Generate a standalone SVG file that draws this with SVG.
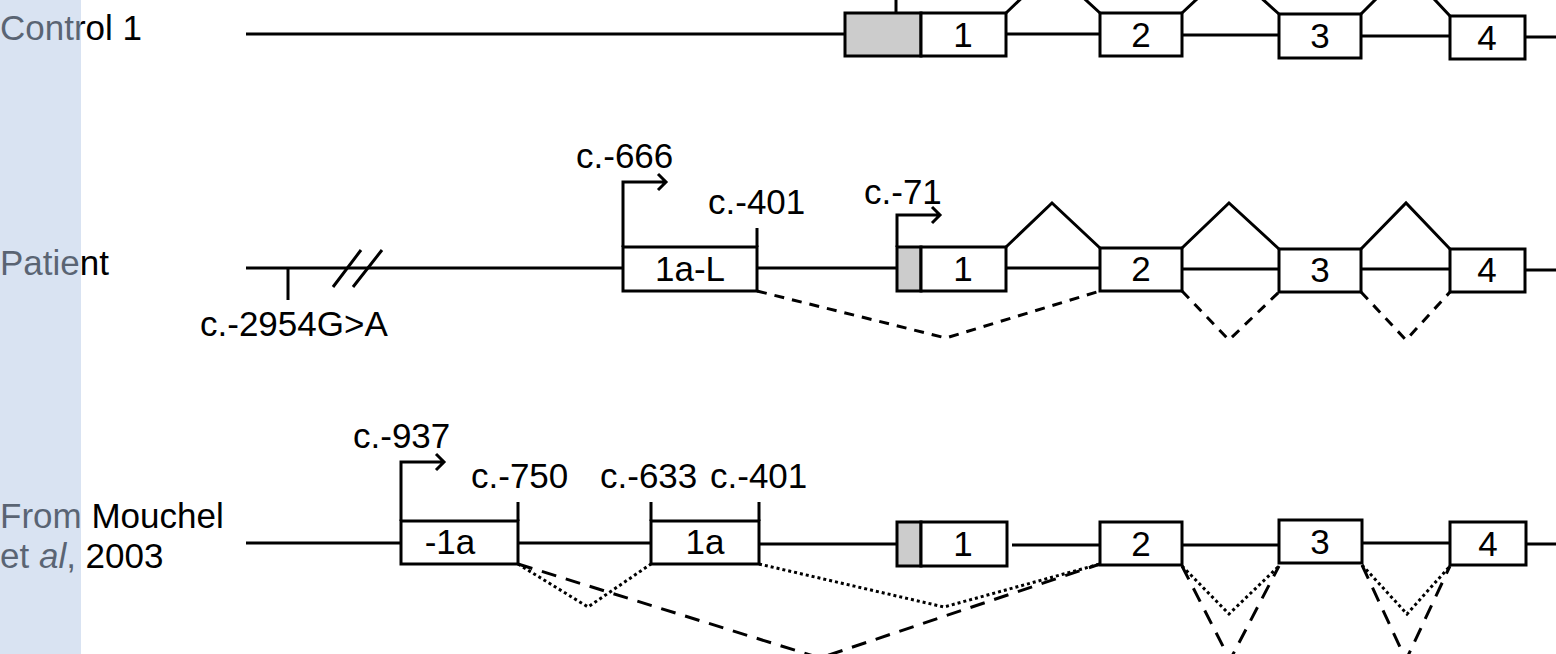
<svg xmlns="http://www.w3.org/2000/svg" width="1556" height="654" viewBox="0 0 1556 654">
<style>
text{font-family:"Liberation Sans",Arial,sans-serif;font-size:35px;fill:#000}
.lbl{text-anchor:middle}
.ln{stroke:#000;stroke-width:3;fill:none}
.ex{fill:#fff;stroke:#000;stroke-width:3}
.utr{fill:#cccccc;stroke:#000;stroke-width:3}
.dash{stroke:#000;stroke-width:3;fill:none;stroke-dasharray:10 8}
.dash2{stroke:#000;stroke-width:3;fill:none;stroke-dasharray:15 10}
.dot{stroke:#000;stroke-width:3;fill:none;stroke-dasharray:3 3}
</style>
<rect width="1556" height="654" fill="#fff"/>
<!-- row labels -->
<g id="labels">
<text x="0" y="40">Control 1</text>
<text x="0" y="275">Patient</text>
<text x="0" y="528">From Mouchel</text>
<text x="0" y="568">et <tspan font-style="italic">al</tspan>, 2003</text>
</g>
<!-- connectors -->
<g id="connectors">
<!-- control row -->
<path class="ln" d="M246 34H845 M1006 34H1100 M1182 35H1279 M1361 36H1450 M1525 37H1556"/>
<path class="ln" d="M896 13V0"/>
<path class="ln" d="M1006 13L1052 -31L1100 13 M1182 13L1229 -31L1279 14 M1361 14L1406 -31L1450 16"/>
<!-- patient row -->
<path class="ln" d="M246 268H623 M757 268H897 M1006 268H1100 M1182 269H1279 M1361 269H1450 M1525 270H1556"/>
<path class="ln" d="M288 268V300"/>
<path class="ln" d="M333 287L361 250 M353 287L382 250"/>
<path class="ln" d="M623 247V182H664 M658 174L666 182L658 190"/>
<path class="ln" d="M757 247V228"/>
<path class="ln" d="M897 247V215H938 M932 207L940 215L932 223"/>
<path class="ln" d="M1006 247L1052 203L1100 248 M1182 248L1229 203L1279 249 M1361 249L1406 203L1450 249"/>
<path class="dash" d="M757 291L946 338L1100 291 M1182 291L1229 340L1279 292 M1361 292L1406 340L1450 292"/>
<!-- Mouchel row -->
<path class="ln" d="M246 543H401 M518 543H651 M759 544H897 M1012 545H1100 M1182 545H1279 M1362 543H1450 M1526 544H1556"/>
<path class="ln" d="M401 521V462H442 M436 454L444 462L436 470"/>
<path class="ln" d="M518 521V502 M651 521V502 M759 521V502"/>
<path class="dot" d="M518 564L588 607L651 564 M759 564L944 607L1100 564 M1182 566L1229 614L1279 566 M1362 565L1407 614L1450 566"/>
<path class="dash2" d="M518 564L820 658L1100 564 M1182 566L1230 660L1279 566 M1362 565L1406 660L1450 566"/>
</g>
<!-- control exons -->
<g id="ctrl-ex1"><rect class="utr" x="845" y="13" width="76" height="43"/><rect class="ex" x="921" y="13" width="85" height="43"/><text class="lbl" x="963" y="47">1</text></g>
<g id="ctrl-ex2"><rect class="ex" x="1100" y="13" width="82" height="43"/><text class="lbl" x="1141" y="47">2</text></g>
<g id="ctrl-ex3"><rect class="ex" x="1279" y="14" width="82" height="44"/><text class="lbl" x="1320" y="48">3</text></g>
<g id="ctrl-ex4"><rect class="ex" x="1450" y="16" width="75" height="43"/><text class="lbl" x="1487" y="50">4</text></g>
<!-- patient exons -->
<g id="pat-ex1aL"><rect class="ex" x="623" y="247" width="134" height="44"/><text class="lbl" x="690" y="281">1a-L</text></g>
<g id="pat-ex1"><rect class="utr" x="897" y="247" width="24" height="44"/><rect class="ex" x="921" y="247" width="85" height="44"/><text class="lbl" x="963" y="281">1</text></g>
<g id="pat-ex2"><rect class="ex" x="1100" y="248" width="82" height="43"/><text class="lbl" x="1141" y="281">2</text></g>
<g id="pat-ex3"><rect class="ex" x="1279" y="249" width="82" height="43"/><text class="lbl" x="1320" y="282">3</text></g>
<g id="pat-ex4"><rect class="ex" x="1450" y="249" width="75" height="43"/><text class="lbl" x="1487" y="282">4</text></g>
<g id="pat-annot">
<text x="200" y="336">c.-2954G&gt;A</text>
<text x="576" y="168">c.-666</text>
<text x="708" y="214">c.-401</text>
<text x="864" y="204">c.-71</text>
</g>
<!-- Mouchel exons -->
<g id="mou-exm1a"><rect class="ex" x="401" y="521" width="117" height="43"/><text class="lbl" x="450" y="554">-1a</text></g>
<g id="mou-ex1a"><rect class="ex" x="651" y="521" width="108" height="43"/><text class="lbl" x="705" y="554">1a</text></g>
<g id="mou-ex1"><rect class="utr" x="897" y="522" width="24" height="44"/><rect class="ex" x="921" y="522" width="86" height="44"/><text class="lbl" x="963" y="556">1</text></g>
<g id="mou-ex2"><rect class="ex" x="1100" y="522" width="82" height="43"/><text class="lbl" x="1141" y="556">2</text></g>
<g id="mou-ex3"><rect class="ex" x="1279" y="520" width="83" height="43"/><text class="lbl" x="1320" y="554">3</text></g>
<g id="mou-ex4"><rect class="ex" x="1450" y="522" width="76" height="43"/><text class="lbl" x="1488" y="556">4</text></g>
<g id="mou-annot">
<text x="353" y="448">c.-937</text>
<text x="471" y="488">c.-750</text>
<text x="600" y="488">c.-633</text>
<text x="710" y="488">c.-401</text>
</g>
<!-- translucent side panel -->
<rect id="panel" x="0" y="0" width="81" height="654" fill="rgb(180,200,230)" fill-opacity="0.5"/>
</svg>
